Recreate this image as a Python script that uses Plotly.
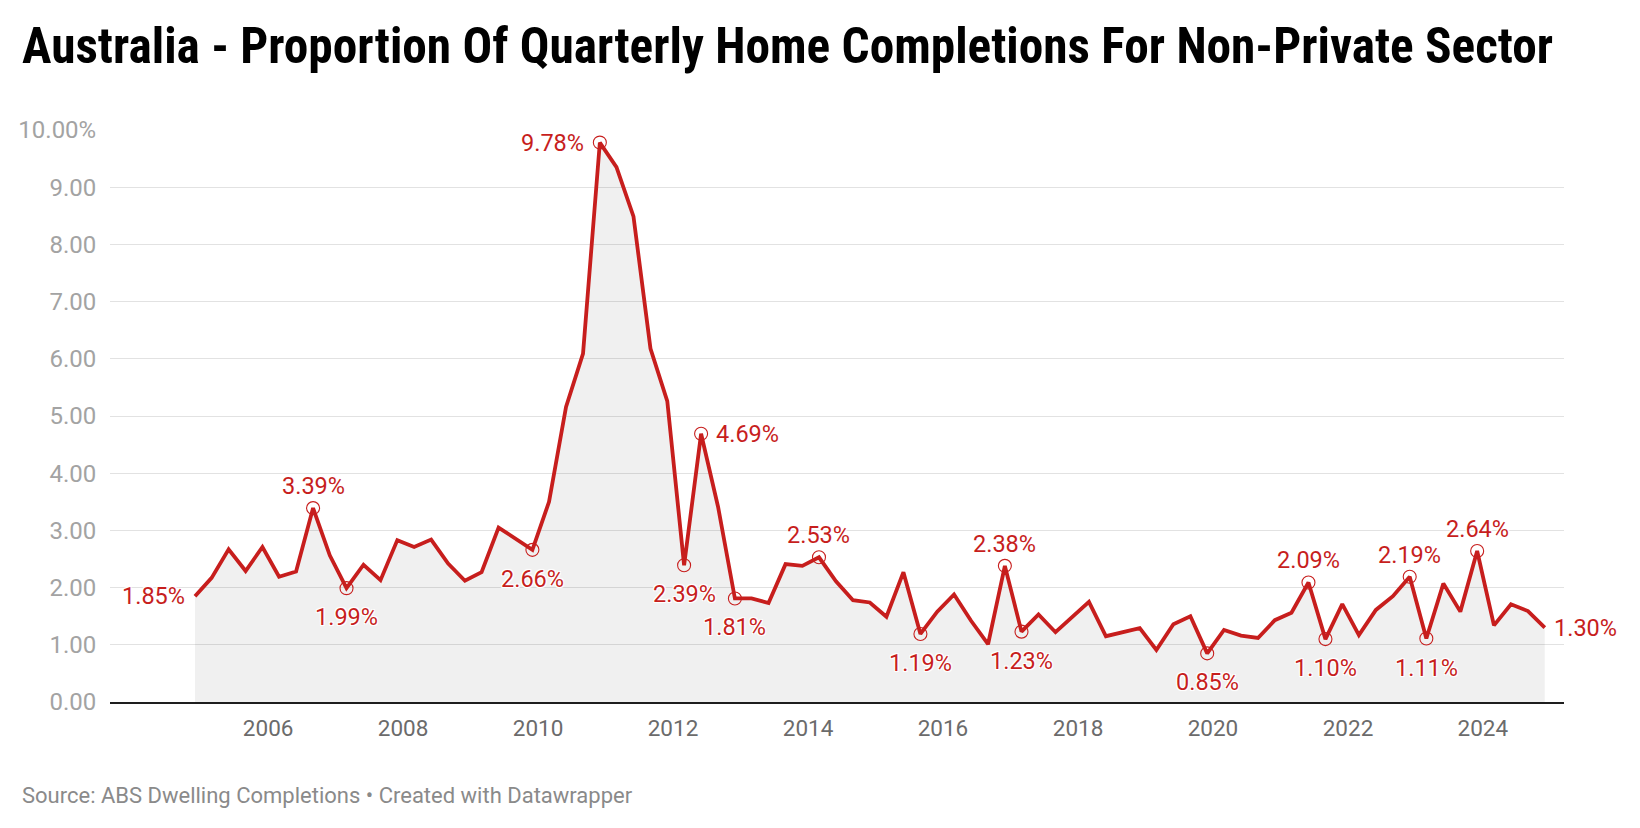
import plotly.graph_objects as go
import pandas as pd

# ---------------- data ----------------
QUARTERS = pd.date_range("2004-12-01", periods=81, freq="3MS")
VALUES = [
    1.85, 2.17, 2.67, 2.29, 2.71, 2.19, 2.28, 3.39, 2.56, 1.99,
    2.40, 2.13, 2.83, 2.71, 2.84, 2.42, 2.12, 2.27, 3.05, 2.86,
    2.66, 3.50, 5.16, 6.09, 9.78, 9.35, 8.49, 6.18, 5.26, 2.39,
    4.69, 3.41, 1.81, 1.81, 1.73, 2.41, 2.38, 2.53, 2.11, 1.78,
    1.74, 1.49, 2.27, 1.19, 1.58, 1.88, 1.42, 1.01, 2.38, 1.23,
    1.53, 1.22, 1.49, 1.75, 1.15, 1.22, 1.29, 0.91, 1.36, 1.50,
    0.85, 1.26, 1.16, 1.12, 1.43, 1.56, 2.09, 1.10, 1.71, 1.17,
    1.61, 1.85, 2.19, 1.11, 2.07, 1.58, 2.64, 1.34, 1.71, 1.59,
    1.30,
]
YEAR_TICKS = [2006, 2008, 2010, 2012, 2014, 2016, 2018, 2020, 2022, 2024]
Y_TICKS = [0, 1, 2, 3, 4, 5, 6, 7, 8, 9, 10]
Y_TICK_TEXT = ["0.00", "1.00", "2.00", "3.00", "4.00", "5.00",
               "6.00", "7.00", "8.00", "9.00", "10.00%"]
# highlighted quarters (index) and where their label sits
LABELLED = [
    (0, "left_end"), (7, "above"), (9, "below"), (20, "below"), (24, "left"),
    (29, "below"), (30, "right"), (32, "below"), (37, "above"), (43, "below"),
    (48, "above"), (49, "below"), (60, "below"), (66, "above"), (67, "below"),
    (72, "above"), (73, "below"), (76, "above"), (80, "right_end"),
]
CIRCLED = [7, 9, 20, 24, 29, 30, 32, 37, 43, 48, 49, 60, 66, 67, 72, 73, 76]

TITLE = "Australia - Proportion Of Quarterly Home Completions For Non-Private Sector"
FOOTER = "Source: ABS Dwelling Completions • Created with Datawrapper"

# ---------------- style ----------------
RED = "#c71e1d"
W, H = 1640, 828
L, R, T, B = 110, 76, 130, 126
PW, PH = W - L - R, H - T - B
FONT = "Roboto, sans-serif"
HALO = "-1px -1px 0 #fff, 1px -1px 0 #fff, -1px 1px 0 #fff, 1px 1px 0 #fff, 0 0 3px #fff"

fig = go.Figure()
fig.add_trace(go.Scatter(
    x=QUARTERS, y=VALUES, mode="lines",
    line=dict(color=RED, width=3.8),
    fill="tozeroy", fillcolor="rgba(0,0,0,0.06)",
    hoverinfo="skip", showlegend=False,
))
fig.add_trace(go.Scatter(
    x=[QUARTERS[i] for i in CIRCLED], y=[VALUES[i] for i in CIRCLED],
    mode="markers",
    marker=dict(symbol="circle-open", size=13, color=RED, line=dict(width=1.1)),
    hoverinfo="skip", showlegend=False,
))

placement = {
    "above": dict(xanchor="center", yanchor="middle", xshift=0, yshift=22),
    "below": dict(xanchor="center", yanchor="middle", xshift=0, yshift=-29),
    "left": dict(xanchor="right", yanchor="middle", xshift=-14, yshift=0),
    "left_end": dict(xanchor="right", yanchor="middle", xshift=-8, yshift=0),
    "right": dict(xanchor="left", yanchor="middle", xshift=13, yshift=0),
    "right_end": dict(xanchor="left", yanchor="middle", xshift=7, yshift=0),
}
annotations = []
for idx, pos in LABELLED:
    annotations.append(dict(
        x=QUARTERS[idx], y=VALUES[idx], xref="x", yref="y",
        text=f"{VALUES[idx]:.2f}%", showarrow=False,
        font=dict(family=FONT, size=23.5, color=RED, shadow=HALO),
        **placement[pos],
    ))

# title and footer placed in paper coordinates
annotations.append(dict(
    x=(20 - L) / PW, y=(H - B - 46) / PH, xref="paper", yref="paper",
    xanchor="left", yanchor="middle", showarrow=False, text=TITLE,
    font=dict(family="Roboto Condensed, Liberation Sans Narrow, Arial Narrow, Roboto, sans-serif",
              size=49.3, color="#000", weight="bold"),
))
annotations.append(dict(
    x=(20 - L) / PW, y=(H - B - 795) / PH, xref="paper", yref="paper",
    xanchor="left", yanchor="middle", showarrow=False, text=FOOTER,
    font=dict(family=FONT, size=22, color="#8a8a8a"),
))

fig.update_layout(
    width=W, height=H,
    margin=dict(l=L, r=R, t=T, b=B, pad=0),
    paper_bgcolor="white", plot_bgcolor="white",
    hovermode=False,
    annotations=annotations,
    xaxis=dict(
        type="date",
        range=["2003-08-29", "2025-03-15"],
        tickvals=[f"{y}-01-01" for y in YEAR_TICKS],
        ticktext=[str(y) for y in YEAR_TICKS],
        showgrid=False, zeroline=False,
        showline=True, linecolor="#1e1e1e", linewidth=2,
        ticks="outside", ticklen=5, tickcolor="rgba(0,0,0,0)",
        tickfont=dict(family=FONT, size=22.5, color="#6b6b6b"),
    ),
    yaxis=dict(
        range=[0, 10],
        tickvals=Y_TICKS, ticktext=Y_TICK_TEXT,
        showgrid=True, gridcolor="#e2e2e2", gridwidth=1,
        zeroline=False, showline=False,
        ticks="outside", ticklen=8, tickcolor="rgba(0,0,0,0)",
        tickfont=dict(family=FONT, size=24, color="#a3a3a3"),
    ),
)

fig.write_html(
    "out.html",
    config={"displayModeBar": False, "staticPlot": True},
    post_script="document.body.style.margin='0';document.body.style.overflow='hidden';",
)
